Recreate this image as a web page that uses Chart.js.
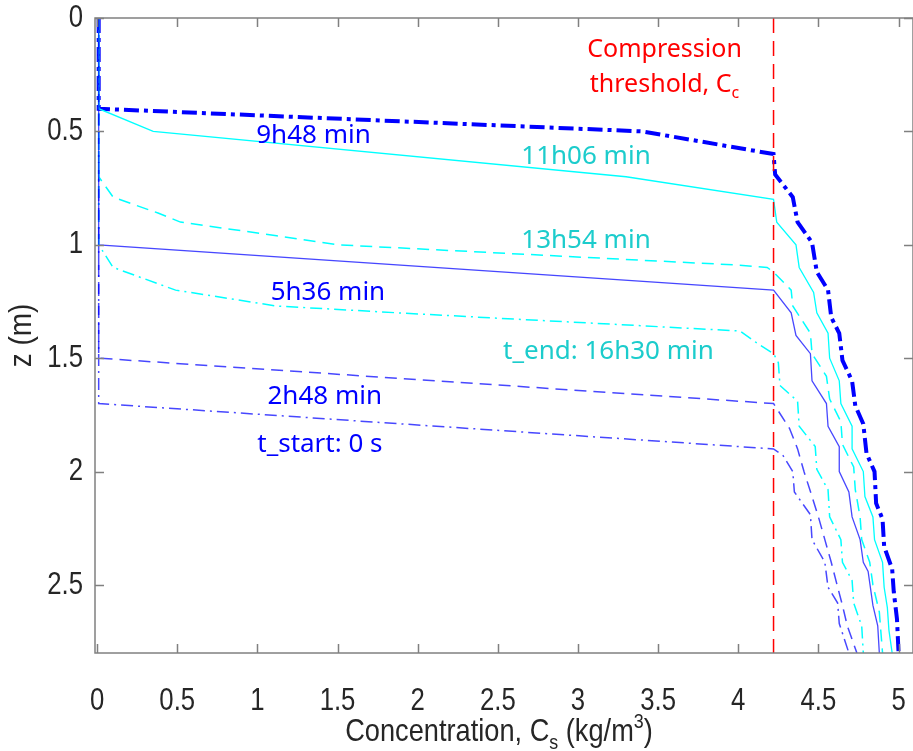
<!DOCTYPE html>
<html>
<head>
<meta charset="utf-8">
<script src="https://cdn.jsdelivr.net/npm/chart.js@4.4.1/dist/chart.umd.min.js"></script>
<style>
  html, body { margin: 0; padding: 0; background: #fff; }
</style>
</head>
<body>
<canvas id="profileChart" width="913" height="751"></canvas>
<script>
// concentration (kg/m3) vs depth z (m) for each time step
const concStart = [0.01, 0.01, 4.22, 4.28, 4.34, 4.35, 4.45, 4.46, 4.54, 4.56, 4.62, 4.63, 4.69];
const zStart    = [0, 1.70, 1.90, 1.93, 2.00, 2.09, 2.19, 2.30, 2.40, 2.51, 2.58, 2.67, 2.80];

const conc2h48 = [0.01, 0.01, 4.22, 4.32, 4.37, 4.41, 4.46, 4.50, 4.54, 4.58, 4.62, 4.65, 4.68, 4.74];
const z2h48    = [0, 1.50, 1.70, 1.81, 1.90, 2.00, 2.11, 2.20, 2.30, 2.40, 2.51, 2.59, 2.68, 2.80];

const conc5h36 = [0.01, 0.01, 4.22, 4.33, 4.36, 4.45, 4.46, 4.55, 4.56, 4.63, 4.63, 4.69, 4.71, 4.76, 4.78, 4.81, 4.84, 4.87, 4.88];
const z5h36    = [0, 1.00, 1.20, 1.30, 1.40, 1.48, 1.60, 1.70, 1.80, 1.89, 2.00, 2.09, 2.20, 2.30, 2.40, 2.44, 2.59, 2.68, 2.80];

const conc9h48 = [0.01, 0.01, 3.40, 4.22, 4.23, 4.34, 4.37, 4.46, 4.49, 4.56, 4.58, 4.63, 4.65, 4.71, 4.73, 4.78, 4.80, 4.85, 4.86, 4.90, 4.91, 4.96, 4.97, 4.99, 5.00];
const z9h48    = [0, 0.40, 0.50, 0.60, 0.69, 0.79, 0.90, 0.99, 1.12, 1.20, 1.32, 1.39, 1.51, 1.60, 1.71, 1.79, 1.92, 2.00, 2.14, 2.21, 2.33, 2.43, 2.53, 2.65, 2.80];

const conc11h06 = [0.01, 0.01, 0.35, 3.30, 4.22, 4.24, 4.36, 4.38, 4.47, 4.49, 4.56, 4.57, 4.63, 4.64, 4.71, 4.71, 4.78, 4.79, 4.84, 4.85, 4.90, 4.91, 4.93, 4.94, 4.96];
const z11h06    = [0, 0.40, 0.50, 0.70, 0.80, 0.90, 1.00, 1.10, 1.21, 1.30, 1.39, 1.50, 1.60, 1.70, 1.80, 1.90, 2.00, 2.11, 2.20, 2.30, 2.40, 2.51, 2.60, 2.70, 2.80];

const conc13h54 = [0.01, 0.01, 0.05, 0.10, 0.38, 0.52, 1.12, 1.50, 4.01, 4.18, 4.22, 4.33, 4.34, 4.45, 4.46, 4.55, 4.57, 4.64, 4.65, 4.72, 4.73, 4.76, 4.77, 4.82, 4.84, 4.88, 4.90];
const z13h54    = [0, 0.70, 0.74, 0.79, 0.86, 0.90, 0.96, 1.00, 1.09, 1.10, 1.12, 1.20, 1.27, 1.39, 1.48, 1.58, 1.68, 1.78, 1.88, 1.98, 2.08, 2.20, 2.30, 2.40, 2.50, 2.62, 2.80];

const concEnd = [0.01, 0.01, 0.10, 0.14, 0.49, 1.12, 2.00, 4.01, 4.13, 4.22, 4.25, 4.26, 4.37, 4.38, 4.48, 4.49, 4.56, 4.57, 4.64, 4.65, 4.71, 4.72, 4.77, 4.78];
const zEnd    = [0, 1.00, 1.10, 1.11, 1.20, 1.27, 1.305, 1.38, 1.44, 1.48, 1.52, 1.62, 1.69, 1.80, 1.89, 1.99, 2.08, 2.20, 2.30, 2.40, 2.48, 2.58, 2.68, 2.80];

const compressionThreshold = 4.22;
const zRange = [0, 2.8];

// curve labels
const labelText = ['9h48 min', '11h06 min', '13h54 min', '5h36 min', 't_end: 16h30 min', '2h48 min', 't_start: 0 s'];
const labelConc = [1.35, 3.05, 3.05, 1.44, 3.19, 1.42, 1.39];
const labelZ    = [0.52, 0.61, 0.98, 1.21, 1.47, 1.67, 1.88];

const BLUE = '#0000ff';
const THIN_BLUE = 'rgba(0,0,255,0.72)';
const CYAN = '#00ffff';
const CYAN_TEXT = '#1ccccc';
const labelColor = [BLUE, CYAN_TEXT, CYAN_TEXT, BLUE, CYAN_TEXT, BLUE, BLUE];

const axisFont = "'Liberation Sans', Arial, sans-serif";
const noteFont = "'Noto Sans', 'Open Sans', sans-serif";
const AXIS_SIZE = 31;
const NARROW = 0.83;   // axis text is condensed in the original

function toPoints(c, z) {
    return c.map((v, i) => ({x: v, y: z[i]}));
}

function line(c, z, color, width, dash) {
    return {
        data: toPoints(c, z),
        borderColor: color,
        borderWidth: width,
        borderDash: dash,
        showLine: true,
        pointRadius: 0,
        tension: 0,
        fill: false
    };
}

const dashDot = [12, 5, 2, 5];
const dashed = [12, 7];

// text with sub/superscripts; align 'center' or 'right', baseline 'alphabetic' or 'middle'
function drawRich(ctx, parts, x0, y0, size, family, color, sx, align, baseline) {
    const small = Math.round(size * 0.65);
    let total = 0;
    parts.forEach(p => {
        ctx.font = (p[1] ? small : size) + 'px ' + family;
        p.w = ctx.measureText(p[0]).width;
        total += p.w;
    });
    ctx.save();
    ctx.translate(x0, y0);
    ctx.scale(sx, 1);
    let x = align === 'right' ? -total : -total / 2;
    ctx.fillStyle = color;
    ctx.textAlign = 'left';
    ctx.textBaseline = baseline || 'alphabetic';
    parts.forEach(p => {
        ctx.font = (p[1] ? small : size) + 'px ' + family;
        let dy = 0;
        if (p[1] === 'sub') dy = size * 0.25;
        if (p[1] === 'sup') dy = -size * 0.42;
        ctx.fillText(p[0], x, dy);
        x += p.w;
    });
    ctx.restore();
}

const decorPlugin = {
    id: 'decor',
    afterDraw(chart) {
        const {ctx, chartArea: a, scales: {x, y}} = chart;
        ctx.save();

        // box with inward ticks
        ctx.strokeStyle = '#808080';
        ctx.lineWidth = 1.5;
        ctx.strokeRect(a.left, a.top, a.right - a.left, a.bottom - a.top);
        ctx.beginPath();
        x.ticks.forEach(t => {
            const px = Math.round(x.getPixelForValue(t.value)) + 0.5;
            ctx.moveTo(px, a.bottom); ctx.lineTo(px, a.bottom - 9);
            ctx.moveTo(px, a.top); ctx.lineTo(px, a.top + 9);
        });
        y.ticks.forEach(t => {
            const py = Math.round(y.getPixelForValue(t.value)) + 0.5;
            ctx.moveTo(a.left, py); ctx.lineTo(a.left + 9, py);
            ctx.moveTo(a.right, py); ctx.lineTo(a.right - 9, py);
        });
        ctx.stroke();

        // tick labels (condensed)
        x.ticks.forEach(t => {
            drawRich(ctx, [[String(+t.value.toFixed(1))]], x.getPixelForValue(t.value), a.bottom + 48,
                AXIS_SIZE, axisFont, '#262626', NARROW, 'center', 'middle');
        });
        y.ticks.forEach(t => {
            drawRich(ctx, [[String(+t.value.toFixed(1))]], a.left - 12, y.getPixelForValue(t.value),
                AXIS_SIZE, axisFont, '#262626', NARROW, 'right', 'middle');
        });

        // curve labels
        ctx.font = '26px ' + noteFont;
        ctx.textAlign = 'center';
        ctx.textBaseline = 'middle';
        labelText.forEach((txt, i) => {
            ctx.fillStyle = labelColor[i];
            ctx.fillText(txt, x.getPixelForValue(labelConc[i]), y.getPixelForValue(labelZ[i]));
        });

        // threshold note
        const nx = x.getPixelForValue(3.54);
        drawRich(ctx, [['Compression']], nx, 57, 25, noteFont, '#ff0000', 1, 'center');
        drawRich(ctx, [['threshold, C'], ['c', 'sub']], nx, 92, 25, noteFont, '#ff0000', 1, 'center');

        // axis titles
        drawRich(ctx, [['Concentration, C'], ['s', 'sub'], [' (kg/m'], ['3', 'sup'], [')']],
            499, 741, 32, axisFont, '#262626', 0.85, 'center');
        ctx.translate(22, (a.top + a.bottom) / 2);
        ctx.rotate(-Math.PI / 2);
        drawRich(ctx, [['z (m)']], 0, 0, AXIS_SIZE, axisFont, '#262626', 0.9, 'center', 'middle');

        ctx.restore();
    }
};

const ctx = document.getElementById('profileChart').getContext('2d');
const profileChart = new Chart(ctx, {
    type: 'scatter',
    data: {
        datasets: [
            line([compressionThreshold, compressionThreshold], zRange, '#ff0000', 1.5, [15, 8]),
            line(concStart, zStart, THIN_BLUE, 1.5, dashDot),
            line(conc2h48, z2h48, THIN_BLUE, 1.5, dashed),
            line(concEnd, zEnd, CYAN, 1.5, dashDot),
            line(conc13h54, z13h54, CYAN, 1.5, dashed),
            line(conc5h36, z5h36, THIN_BLUE, 1.3, []),
            line(conc11h06, z11h06, CYAN, 1.3, []),
            line(conc9h48, z9h48, BLUE, 4, [15, 5, 4, 5])
        ]
    },
    plugins: [decorPlugin],
    options: {
        responsive: false,
        animation: false,
        layout: { padding: { top: 18, left: 0, right: 0, bottom: 0 } },
        plugins: {
            legend: { display: false },
            tooltip: { enabled: false }
        },
        scales: {
            x: {
                type: 'linear',
                min: -0.013,
                max: 5.09,
                grid: { display: false, drawTicks: false },
                border: { display: false },
                ticks: { display: false, stepSize: 0.5, includeBounds: false, autoSkip: false },
                afterFit: s => { s.height = 98; s.paddingLeft = 0; s.paddingRight = 0; }
            },
            y: {
                type: 'linear',
                reverse: true,
                min: 0,
                max: 2.8,
                grid: { display: false, drawTicks: false },
                border: { display: false },
                ticks: { display: false, stepSize: 0.5, includeBounds: false, autoSkip: false },
                afterFit: s => { s.width = 95; s.paddingTop = 0; s.paddingBottom = 0; }
            }
        }
    }
});
</script>
</body>
</html>
